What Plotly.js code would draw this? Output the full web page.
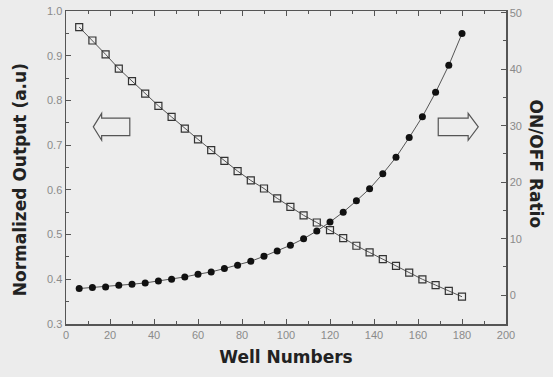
<!DOCTYPE html>
<html>
<head>
<meta charset="utf-8">
<script src="https://cdn.plot.ly/plotly-3.0.1.min.js"></script>
<style>html,body{margin:0;padding:0;background:#ececec;}#chart{width:553px;height:377px;}</style>
</head>
<body>
<div id="chart"></div>
<script>
// Well numbers (x)
const wellNumbers = [6, 12, 18, 24, 30, 36, 42, 48, 54, 60, 66, 72, 78, 84, 90, 96, 102, 108, 114, 120, 126, 132, 138, 144, 150, 156, 162, 168, 174, 180];
// Normalized output (a.u), left axis, open squares
const normalizedOutput = [0.964, 0.934, 0.903, 0.871, 0.843, 0.815, 0.788, 0.763, 0.737, 0.713, 0.689, 0.665, 0.642, 0.621, 0.603, 0.581, 0.562, 0.543, 0.527, 0.510, 0.492, 0.475, 0.460, 0.445, 0.430, 0.415, 0.400, 0.387, 0.374, 0.361];
// ON/OFF ratio, right axis, filled markers
const onOffRatio = [1.18, 1.36, 1.47, 1.77, 1.94, 2.17, 2.53, 2.83, 3.23, 3.71, 4.12, 4.72, 5.30, 6.0, 6.89, 7.83, 8.83, 10.0, 11.36, 12.95, 14.7, 16.7, 18.85, 21.5, 24.4, 27.9, 31.6, 35.9, 40.7, 46.3];
// Axis labels
const xTitle = "Well Numbers";
const yTitle = "Normalized Output (a.u)";
const y2Title = "ON/OFF Ratio";

const tickFont = {family: "Liberation Sans, Arial, sans-serif", size: 11, color: "#8a8a8a"};
const titleFont = {family: "DejaVu Sans, sans-serif", size: 17, color: "#222", weight: "bold"};
const axisColor = "#555";

const traces = [
  {
    x: wellNumbers, y: normalizedOutput, type: "scatter", mode: "lines+markers",
    name: "Normalized Output", yaxis: "y",
    line: {color: "#555", width: 1},
    marker: {symbol: "square-open", size: 7, color: "#333", line: {width: 1.2, color: "#333"}}
  },
  {
    x: wellNumbers, y: onOffRatio, type: "scatter", mode: "lines+markers",
    name: "ON/OFF Ratio", yaxis: "y2",
    line: {color: "#555", width: 1},
    marker: {symbol: "circle", size: 7, color: "#111"}
  }
];

function arrowPath(tip, headBase, tail, yMid, headHalf, shaftHalf) {
  return "M " + tip + " " + yMid +
    " L " + headBase + " " + (yMid + headHalf) +
    " L " + headBase + " " + (yMid + shaftHalf) +
    " L " + tail + " " + (yMid + shaftHalf) +
    " L " + tail + " " + (yMid - shaftHalf) +
    " L " + headBase + " " + (yMid - shaftHalf) +
    " L " + headBase + " " + (yMid - headHalf) + " Z";
}

const layout = {
  width: 553, height: 377,
  margin: {l: 66, r: 47, t: 11, b: 53},
  paper_bgcolor: "#ececec",
  plot_bgcolor: "#ededed",
  showlegend: false,
  xaxis: {
    range: [0, 200], dtick: 20, tick0: 0,
    ticks: "inside", ticklen: 5, tickcolor: axisColor, tickwidth: 1,
    minor: {dtick: 10, ticks: "inside", ticklen: 3, tickcolor: axisColor},
    showline: true, linecolor: axisColor, linewidth: 1.5, mirror: "ticks",
    showgrid: false, zeroline: false,
    tickfont: tickFont,
    title: {text: xTitle, font: titleFont, standoff: 11}
  },
  yaxis: {
    range: [0.3, 1.0], dtick: 0.1, tick0: 0.3, tickformat: ".1f",
    ticks: "inside", ticklen: 5, tickcolor: axisColor,
    minor: {dtick: 0.05, ticks: "inside", ticklen: 3, tickcolor: axisColor},
    showline: true, linecolor: axisColor, linewidth: 1.5, mirror: true,
    showgrid: false, zeroline: false,
    tickfont: tickFont
  },
  yaxis2: {
    overlaying: "y", side: "right",
    range: [-5.1, 50.3], dtick: 10, tick0: 0,
    ticks: "inside", ticklen: 5, tickcolor: axisColor,
    minor: {dtick: 5, ticks: "inside", ticklen: 3, tickcolor: axisColor},
    showline: true, linecolor: axisColor, linewidth: 1.5,
    showgrid: false, zeroline: false,
    tickfont: tickFont
  },
  annotations: [
    {xref: "paper", yref: "paper", x: -0.104, y: 0.46, text: yTitle, showarrow: false,
     textangle: -90, font: titleFont, xanchor: "center", yanchor: "middle"},
    {xref: "paper", yref: "paper", x: 1.068, y: 0.51, text: y2Title, showarrow: false,
     textangle: 90, font: titleFont, xanchor: "center", yanchor: "middle"}
  ],
  shapes: [
    {type: "path", xref: "paper", yref: "paper",
     path: arrowPath(0.062, 0.081, 0.145, 0.630, 0.043, 0.028),
     line: {color: "#555", width: 1.2}, fillcolor: "rgba(0,0,0,0)"},
    {type: "path", xref: "paper", yref: "paper",
     path: arrowPath(0.937, 0.914, 0.846, 0.630, 0.043, 0.028),
     line: {color: "#555", width: 1.2}, fillcolor: "rgba(0,0,0,0)"}
  ]
};

Plotly.newPlot("chart", traces, layout, {displayModeBar: false, staticPlot: true});
</script>
</body>
</html>
